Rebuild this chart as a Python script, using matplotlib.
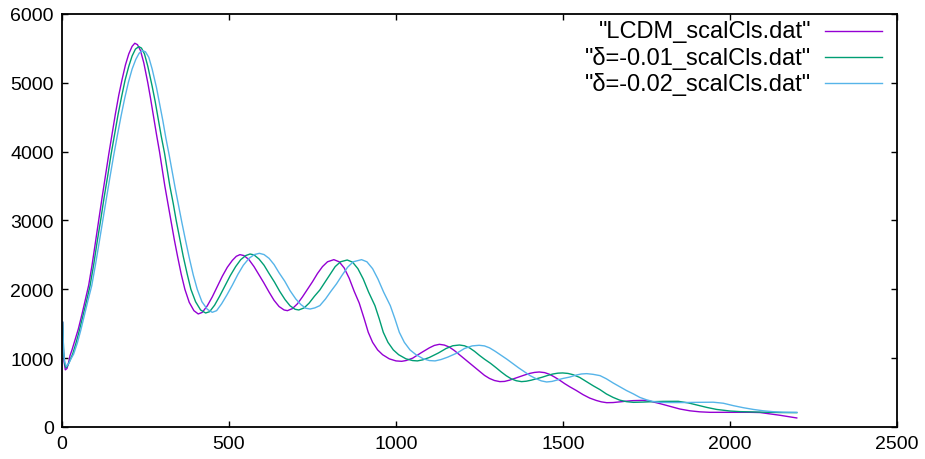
#!/usr/bin/env python3
"""Temperature power spectrum D_l for LCDM and two delta runs (gnuplot-style)."""

import matplotlib
matplotlib.use("Agg")
import matplotlib.pyplot as plt  # noqa: E402

plt.rcParams["font.family"] = ["Liberation Sans", "DejaVu Sans"]

# ---------------------------------------------------------------------------
# Data (multipole l, D_l)
# ---------------------------------------------------------------------------

lcdm_l = [2, 4, 6, 10, 15, 20, 24, 30, 40, 49, 60, 70, 80, 90, 100, 110, 120,
          130, 140, 150, 160, 170, 180, 190, 200, 210, 218, 226, 235, 245, 257,
          265, 274, 283, 292, 300, 308, 317, 326, 336, 346, 357, 368, 381, 395,
          408, 420, 435, 450, 465, 480, 495, 510, 522, 533, 545, 560, 575, 590,
          604, 620, 635, 650, 665, 675, 690, 705, 720, 735, 750, 765, 780, 795,
          814, 830, 845, 860, 875, 890, 905, 917, 930, 945, 960, 980, 1000,
          1017, 1030, 1050, 1075, 1100, 1115, 1130, 1145, 1160, 1175, 1190,
          1205, 1220, 1235, 1250, 1265, 1280, 1295, 1311, 1325, 1340, 1355,
          1370, 1385, 1400, 1415, 1429, 1445, 1460, 1475, 1490, 1505, 1520,
          1540, 1560, 1580, 1600, 1615, 1631, 1650, 1670, 1690, 1710, 1740,
          1765, 1790, 1820, 1850, 1880, 1910, 1940, 1980, 2020, 2060, 2090,
          2120, 2150, 2175, 2200]
lcdm_cl = [1520, 1150, 960, 830, 850, 940, 1036, 1120, 1280, 1424, 1640, 1850,
           2060, 2350, 2680, 3010, 3330, 3650, 3960, 4260, 4550, 4820, 5050,
           5260, 5420, 5530, 5575, 5555, 5470, 5290, 5000, 4780, 4510, 4250,
           4000, 3750, 3500, 3250, 3000, 2730, 2480, 2220, 2000, 1811, 1690,
           1642, 1665, 1760, 1890, 2040, 2190, 2320, 2420, 2480, 2504, 2490,
           2430, 2330, 2210, 2097, 1960, 1840, 1750, 1700, 1690, 1720, 1790,
           1890, 2000, 2110, 2230, 2330, 2400, 2431, 2400, 2310, 2160, 1970,
           1800, 1570, 1376, 1230, 1120, 1050, 990, 960, 954, 965, 1000, 1077,
           1150, 1185, 1201, 1190, 1160, 1110, 1050, 990, 930, 870, 810, 750,
           705, 675, 659, 662, 680, 705, 729, 755, 778, 793, 799, 790, 765, 725,
           680, 630, 585, 530, 470, 420, 385, 365, 353, 355, 365, 375, 383, 387,
           370, 340, 300, 261, 235, 220, 213, 213, 213, 213, 210, 190, 170,
           150, 131]

d01_l = [2, 5, 8, 12, 18, 25, 32, 42, 52, 63, 74, 84, 95, 105, 116, 126, 137,
         147, 158, 168, 179, 189, 200, 210, 220, 230, 238, 247, 257, 270, 279,
         288, 297, 307, 315, 323, 333, 342, 353, 363, 375, 386, 400, 415, 430,
         442, 457, 472, 488, 504, 520, 535, 550, 563, 575, 590, 605, 620, 636,
         652, 668, 683, 698, 709, 725, 740, 756, 772, 787, 803, 818, 834, 854,
         870, 886, 902, 918, 937, 950, 962, 976, 992, 1008, 1030, 1050, 1064,
         1080, 1100, 1127, 1150, 1170, 1190, 1205, 1220, 1235, 1250, 1265,
         1283, 1300, 1315, 1330, 1345, 1360, 1376, 1390, 1405, 1420, 1437,
         1455, 1470, 1485, 1499, 1515, 1530, 1550, 1570, 1590, 1611, 1630,
         1650, 1670, 1690, 1711, 1740, 1770, 1800, 1845, 1875, 1900, 1930,
         1960, 2000, 2030, 2070, 2110, 2150, 2200]
d01_cl = [1520, 1080, 920, 860, 900, 980, 1060, 1220, 1400, 1620, 1840, 2050,
          2360, 2680, 3010, 3330, 3650, 3960, 4260, 4540, 4810, 5040, 5240,
          5390, 5490, 5526, 5505, 5420, 5240, 4950, 4730, 4480, 4230, 3980,
          3740, 3500, 3250, 3000, 2730, 2480, 2220, 2000, 1820, 1700, 1656,
          1675, 1770, 1900, 2050, 2200, 2330, 2430, 2490, 2513, 2500, 2440,
          2350, 2230, 2107, 1970, 1850, 1760, 1710, 1700, 1730, 1800, 1900,
          1990, 2100, 2220, 2330, 2400, 2426, 2395, 2300, 2150, 1960, 1763,
          1570, 1376, 1230, 1120, 1050, 990, 965, 960, 975, 1010, 1075, 1140,
          1180, 1191, 1180, 1150, 1100, 1040, 985, 925, 860, 800, 745, 700,
          672, 659, 665, 680, 700, 722, 750, 770, 782, 785, 778, 760, 720, 660,
          600, 542, 480, 430, 390, 368, 358, 362, 368, 372, 373, 350, 320, 285,
          255, 232, 223, 218, 214, 210, 208]

d02_l = [2, 5, 8, 13, 20, 27, 35, 46, 56, 67, 78, 89, 100, 111, 122, 133, 144,
         155, 166, 177, 188, 199, 210, 221, 231, 241, 250, 260, 270, 283, 292,
         302, 311, 321, 330, 339, 349, 359, 370, 381, 393, 405, 419, 435, 450,
         463, 478, 494, 510, 527, 543, 560, 576, 591, 605, 620, 635, 650, 667,
         683, 700, 715, 730, 743, 757, 772, 789, 805, 822, 838, 855, 872, 897,
         913, 930, 946, 963, 983, 997, 1010, 1025, 1042, 1060, 1082, 1100,
         1117, 1135, 1155, 1183, 1205, 1228, 1249, 1265, 1280, 1297, 1315,
         1332, 1350, 1367, 1385, 1402, 1420, 1435, 1451, 1467, 1485, 1500,
         1520, 1540, 1555, 1571, 1590, 1611, 1630, 1650, 1670, 1690, 1711,
         1730, 1750, 1770, 1790, 1820, 1860, 1900, 1950, 1980, 2010, 2040,
         2070, 2100, 2130, 2160, 2200]
d02_cl = [1520, 1100, 950, 880, 920, 990, 1060, 1220, 1400, 1620, 1840, 2050,
          2350, 2670, 3000, 3320, 3640, 3950, 4240, 4520, 4780, 5010, 5200,
          5340, 5430, 5468, 5450, 5370, 5200, 4930, 4700, 4450, 4200, 3950,
          3710, 3470, 3220, 2970, 2710, 2460, 2210, 2000, 1820, 1710, 1666,
          1690, 1790, 1920, 2060, 2220, 2350, 2450, 2505, 2523, 2505, 2450,
          2360, 2240, 2118, 1980, 1860, 1780, 1725, 1714, 1730, 1763, 1860,
          1970, 2080, 2200, 2320, 2400, 2431, 2400, 2300, 2150, 1960, 1763,
          1570, 1376, 1230, 1120, 1050, 990, 965, 960, 980, 1015, 1075, 1140,
          1178, 1187, 1178, 1150, 1100, 1040, 985, 920, 860, 800, 745, 700,
          670, 654, 662, 685, 705, 725, 755, 770, 775, 765, 746, 700, 640, 585,
          530, 480, 430, 395, 370, 358, 355, 355, 358, 360, 345, 310, 280, 255,
          235, 222, 215, 213]

labels = ['"LCDM_scalCls.dat"', '"δ=-0.01_scalCls.dat"', '"δ=-0.02_scalCls.dat"']
colors = ["#9400D3", "#009E73", "#56B4E9"]

xticks = [0, 500, 1000, 1500, 2000, 2500]
yticks = [0, 1000, 2000, 3000, 4000, 5000, 6000]

# ---------------------------------------------------------------------------
# Plot
# ---------------------------------------------------------------------------

fig = plt.figure(figsize=(9.25, 4.6), dpi=100)
ax = fig.add_axes([0.067, 0.0696, 0.9027, 0.8978])

series = zip([lcdm_l, d01_l, d02_l], [lcdm_cl, d01_cl, d02_cl], labels, colors)
for i, (xs, ys, lab, col) in enumerate(series):
    ax.plot(xs, ys, color=col, linewidth=1.0)
    # gnuplot-style key: right-aligned title, sample line to its right
    ky = 0.959 - i * 0.0635
    ax.text(0.897, ky, lab, transform=ax.transAxes, ha="right", va="center",
            fontsize=17)
    ax.plot([0.914, 0.982], [ky, ky], transform=ax.transAxes, color=col,
            linewidth=1.0)

ax.set_xlim(0, 2500)
ax.set_ylim(0, 6000)
ax.set_xticks(xticks)
ax.set_yticks(yticks)
ax.tick_params(direction="in", length=4, width=1.0, labelsize=14,
               top=True, right=True, pad=6)
for sp in ax.spines.values():
    sp.set_linewidth(1.3)

fig.savefig("out.png", dpi=100)
